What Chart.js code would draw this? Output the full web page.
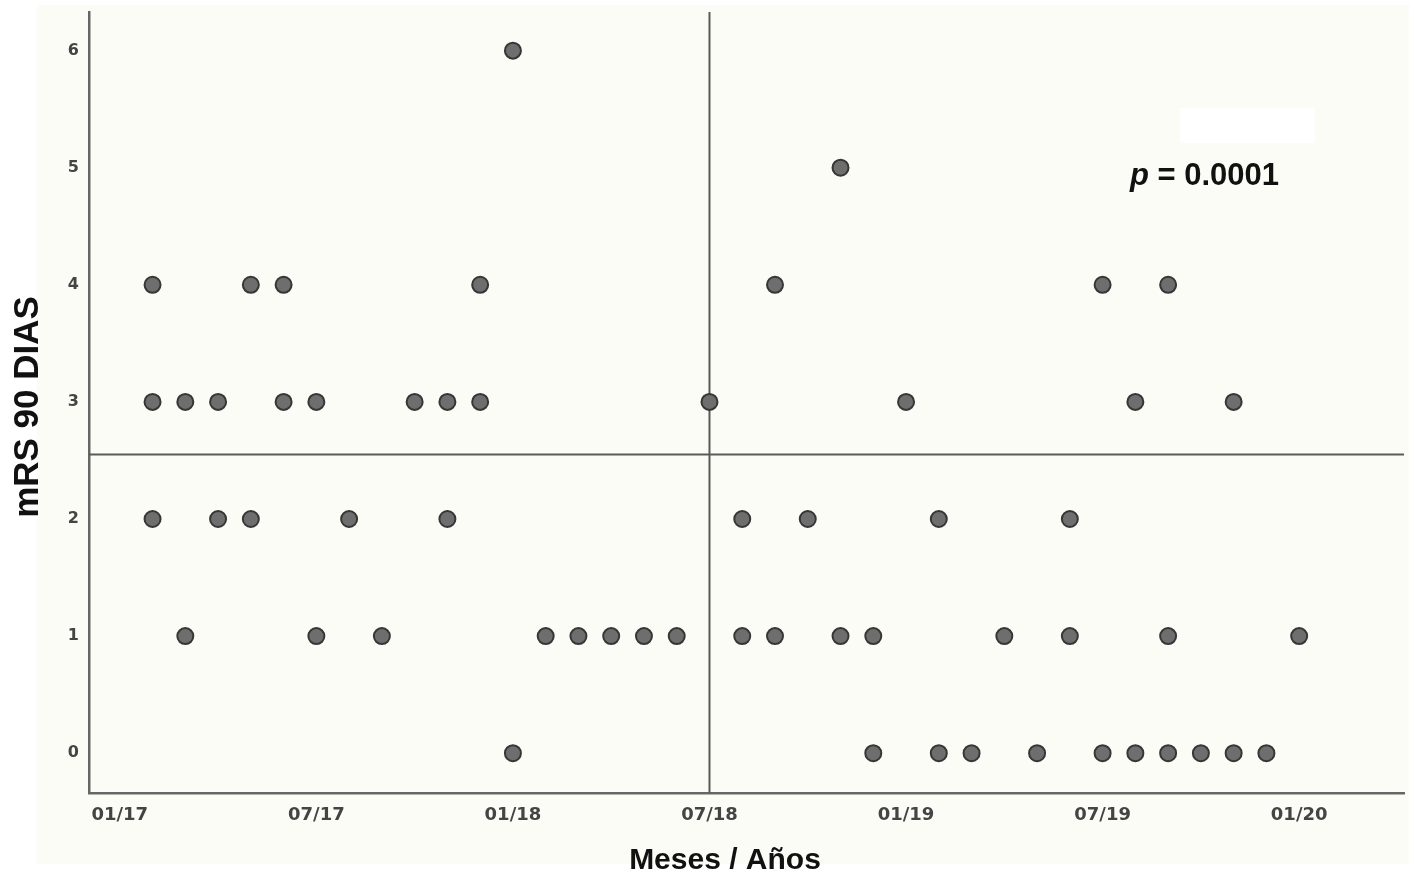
<!DOCTYPE html>
<html>
<head>
<meta charset="utf-8">
<script src="https://cdn.jsdelivr.net/npm/chart.js@4.4.1/dist/chart.umd.min.js"></script>
<style>
  html, body { margin: 0; padding: 0; background: #fff; }
  #wrap { width: 1414px; height: 879px; position: relative; }
</style>
</head>
<body>
<div id="wrap"><canvas id="mrs-chart" width="1414" height="879"></canvas></div>
<script>
// month index: 0 = 01/17
const months = [1, 1, 1, 2, 2, 3, 3, 4, 4, 5, 5, 6, 6, 7, 8, 9, 10, 10, 11, 11, 12, 12,
                13, 14, 15, 16, 17, 18, 19, 19, 20, 20, 21, 22, 22, 23, 23, 24, 25, 25,
                26, 27, 28, 29, 29, 30, 30, 31, 31, 32, 32, 32, 33, 34, 34, 35, 36];
const mrs    = [4, 3, 2, 3, 1, 3, 2, 4, 2, 4, 3, 3, 1, 2, 1, 3, 3, 2, 4, 3, 6, 0,
                1, 1, 1, 1, 1, 3, 2, 1, 4, 1, 2, 5, 1, 1, 0, 3, 2, 0,
                0, 1, 0, 2, 1, 4, 0, 3, 0, 4, 1, 0, 0, 3, 0, 0, 1];
const xTickMonths = [0, 6, 12, 18, 24, 30, 36];
const xTickLabels = ['01/17', '07/17', '01/18', '07/18', '01/19', '07/19', '01/20'];
const yTicks = [0, 1, 2, 3, 4, 5, 6];
const cutMonth = 18;
const cutMrs = 2.55;
const pText = '0.0001';
const xTitle = 'Meses / Años';
const yTitle = 'mRS 90 DIAS';

const titleFont = (s) => 'bold ' + s + 'px "Liberation Sans", Arial, sans-serif';

// background, reference lines, axis titles and p value
const extras = {
  id: 'extras',
  beforeDraw(chart) {
    const c = chart.ctx;
    c.save();
    c.fillStyle = '#ffffff';
    c.fillRect(0, 0, chart.width, chart.height);
    c.fillStyle = '#fcfcf6';
    c.fillRect(37, 5, 1372, 859);
    c.fillStyle = '#ffffff';
    c.fillRect(1180, 108, 135, 35);
    c.restore();
  },
  beforeDatasetsDraw(chart) {
    const c = chart.ctx, a = chart.chartArea;
    const x = chart.scales.x.getPixelForValue(cutMonth);
    const y = chart.scales.y.getPixelForValue(cutMrs);
    c.save();
    c.strokeStyle = '#5a5a5a';
    c.lineWidth = 2;
    c.beginPath();
    c.moveTo(x, a.top); c.lineTo(x, a.bottom);
    c.moveTo(a.left, y); c.lineTo(a.right, y);
    c.stroke();
    c.restore();
  },
  afterDraw(chart) {
    const c = chart.ctx;
    c.save();
    c.fillStyle = '#111';
    c.textBaseline = 'middle';
    c.textAlign = 'center';
    c.font = titleFont(30);
    c.fillText(xTitle, 725, 861);
    c.translate(28, 407);
    c.rotate(-Math.PI / 2);
    c.font = titleFont(35);
    c.fillText(yTitle, 0, 0);
    c.restore();

    c.save();
    c.fillStyle = '#111';
    c.textBaseline = 'middle';
    c.font = 'italic ' + titleFont(31);
    c.fillText('p', 1130, 176);
    const w = c.measureText('p').width;
    c.font = titleFont(31);
    c.fillText(' = ' + pText, 1130 + w, 176);
    c.restore();
  }
};

new Chart(document.getElementById('mrs-chart'), {
  type: 'scatter',
  data: {
    datasets: [{
      data: months.map((m, i) => ({ x: m, y: mrs[i] })),
      backgroundColor: '#6e6e6e',
      borderColor: '#363636',
      borderWidth: 2,
      pointRadius: 8,
      pointHoverRadius: 8
    }]
  },
  options: {
    responsive: false,
    animation: false,
    layout: { padding: { left: 0, top: 12, right: 3, bottom: 0 } },
    plugins: { legend: { display: false }, tooltip: { enabled: false } },
    scales: {
      x: {
        type: 'linear',
        min: -0.94,
        max: 39.2,
        afterBuildTicks: (s) => { s.ticks = xTickMonths.map(v => ({ value: v })); },
        afterFit: (s) => { s.height = 86; s.paddingLeft = 0; s.paddingRight = 0; },
        grid: { display: false, drawTicks: false },
        border: { display: true, color: '#666', width: 2.5 },
        ticks: {
          padding: 12,
          color: '#444',
          font: { family: '"DejaVu Sans", sans-serif', size: 18, weight: 'bold' },
          callback: (v) => xTickLabels[xTickMonths.indexOf(v)]
        }
      },
      y: {
        min: -0.34,
        max: 6.33,
        afterBuildTicks: (s) => { s.ticks = yTicks.map(v => ({ value: v })); },
        afterFit: (s) => { s.width = 89; s.paddingTop = 0; s.paddingBottom = 0; },
        grid: { display: false, drawTicks: false },
        border: { display: true, color: '#666', width: 2.5 },
        ticks: {
          padding: 10,
          color: '#444',
          font: { family: '"DejaVu Sans", sans-serif', size: 16, weight: 'bold' }
        }
      }
    }
  },
  plugins: [extras]
});
</script>
</body>
</html>
